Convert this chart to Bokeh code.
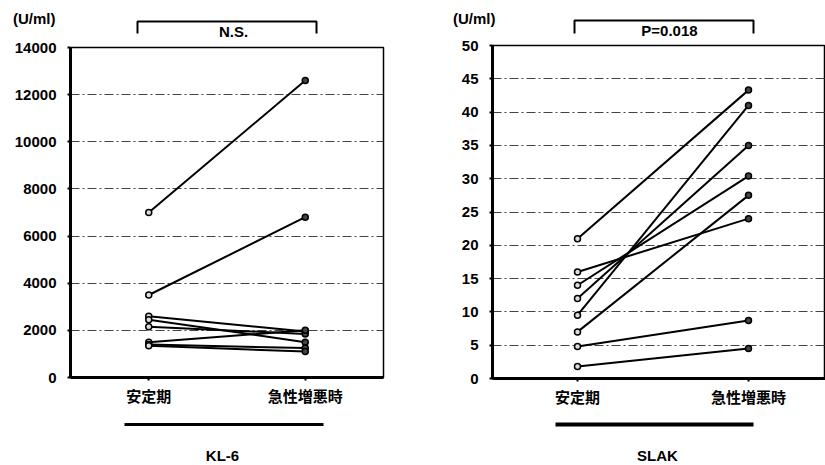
from bokeh.plotting import figure
from bokeh.layouts import row, column
from bokeh.models import FixedTicker, Range1d, LinearAxis
from bokeh.core.properties import value
from bokeh.embed import file_html
from bokeh.resources import INLINE

# ---------------- data ----------------
categories = ["安定期", "急性増悪時"]
kl6_stable = [7000, 3500, 2600, 2450, 2150, 1500, 1400, 1350]
kl6_exacerbation = [12600, 6800, 1950, 1500, 1850, 2000, 1250, 1100]
slak_stable = [21, 16, 14, 12, 9.5, 7, 4.8, 1.8]
slak_exacerbation = [43.3, 24, 30.4, 35, 41, 27.5, 8.7, 4.5]
kl6_ticks = [0, 2000, 4000, 6000, 8000, 10000, 12000, 14000]
slak_ticks = [0, 5, 10, 15, 20, 25, 30, 35, 40, 45, 50]
unit_label = "(U/ml)"
kl6_name = "KL-6"
slak_name = "SLAK"
kl6_test = "N.S."
slak_test = "P=0.018"

FONT = "Liberation Sans"
CJK = "Noto Sans CJK JP"
FS = "15px"
MAIN_END = 415  # y where the strip below each chart starts
H = 465


def strip(width, height, xr, L, R):
    s = figure(width=width, height=height, output_backend="svg", toolbar_location=None,
               x_range=Range1d(*xr), y_range=Range1d(height, 0),
               x_axis_type=None, y_axis_type=None,
               min_border_left=L, min_border_right=width - R, min_border_top=0, min_border_bottom=0)
    s.grid.visible = False
    s.outline_line_color = None
    return s


def text(fig, x, y, t, size=FS):
    fig.text([x], [y], text=[t], text_font=value(FONT), text_font_style="bold",
             text_font_size=value(size), text_align="center", text_baseline="middle",
             text_color="black")


def panel(W, L, R, T, B, top_h, xr, ymax, ticks, stable, exac, unit_y, unit_standoff, bracket_px,
          test_text, test_px, bar_px, bar_w, name_px, name):
    def X(px):
        return xr[0] + (xr[1] - xr[0]) * (px - L) / (R - L)

    # ---- strip above: unit, bracket and test result ----
    top = strip(W, top_h, xr, L, R)
    uax = LinearAxis(ticker=FixedTicker(ticks=[unit_y]), major_label_overrides={unit_y: unit_label},
                     axis_line_color=None, major_tick_line_color=None, minor_tick_line_color=None,
                     major_tick_in=0, major_tick_out=0, major_label_standoff=unit_standoff,
                     major_label_text_font=FONT, major_label_text_font_style="bold",
                     major_label_text_font_size=FS, major_label_text_color="black")
    top.add_layout(uax, "left")
    b0, b1, bt, bb = bracket_px
    top.line([X(b0), X(b0), X(b1), X(b1)], [bb, bt, bt, bb], line_color="black", line_width=2)
    text(top, X(test_px[0]), test_px[1], test_text)

    # ---- main chart ----
    p = figure(width=W, height=MAIN_END - top_h, output_backend="svg", toolbar_location=None,
               x_range=Range1d(*xr), y_range=Range1d(0, ymax),
               min_border_left=L, min_border_right=W - R, min_border_top=T - top_h,
               min_border_bottom=MAIN_END - B)
    p.outline_line_color = "black"
    p.outline_line_width = 1.5
    p.xgrid.visible = False
    p.ygrid.ticker = FixedTicker(ticks=ticks[1:-1])
    p.ygrid.grid_line_color = "#444444"
    p.ygrid.grid_line_width = 1
    p.ygrid.grid_line_dash = "9 3 2 3"
    p.yaxis.ticker = FixedTicker(ticks=ticks)
    p.xaxis.ticker = FixedTicker(ticks=[1, 2])
    p.xaxis.major_label_overrides = {1: categories[0], 2: categories[1]}
    for ax in (p.xaxis, p.yaxis):
        ax.axis_line_width = 3
        ax.axis_line_color = "black"
        ax.major_tick_in = 0
        ax.major_tick_out = 3
        ax.major_tick_line_width = 2
        ax.minor_tick_line_color = None
    p.yaxis.major_label_text_font = FONT
    p.yaxis.major_label_text_font_style = "bold"
    p.yaxis.major_label_text_font_size = FS
    p.yaxis.major_label_text_color = "black"
    p.yaxis.major_label_standoff = 11
    p.xaxis.major_label_text_font = CJK
    p.xaxis.major_label_text_font_style = "bold"
    p.xaxis.major_label_text_font_size = "15px"
    p.xaxis.major_label_text_color = "black"
    p.xaxis.major_label_standoff = 4

    xs = [[1, 2] for _ in stable]
    ys = [[a, b] for a, b in zip(stable, exac)]
    p.multi_line(xs=xs, ys=ys, line_color="black", line_width=2)
    p.scatter([1] * len(stable), stable, size=6, fill_color="#dddddd", line_color="black", line_width=1.5)
    p.scatter([2] * len(exac), exac, size=6, fill_color="#444444", line_color="black", line_width=1.5)

    # ---- strip below: bar and marker name ----
    bot = strip(W, H - MAIN_END, xr, L, R)
    bot.line([X(bar_px[0]), X(bar_px[1])], [bar_px[2] - MAIN_END] * 2, line_color="black",
             line_width=bar_w)
    text(bot, X(name_px[0]), name_px[1] - MAIN_END, name)

    return column(top, p, bot, spacing=0)


left = panel(412, 70, 383, 47, 377, 39, (0.5, 2.5), 14000, kl6_ticks, kl6_stable, kl6_exacerbation,
             18, 15, (137, 316, 21, 33), kl6_test, (233, 30.5), (124, 323, 424), 3, (222, 455), kl6_name)
right = panel(413, 80, 413, 45, 378, 37, (1 - 85 / 171, 2 + 77 / 171), 50, slak_ticks, slak_stable,
              slak_exacerbation, 18, -3, (162, 341, 20, 33), slak_test, (257, 29.5),
              (143, 341, 424), 4, (245, 455), slak_name)

layout = row(left, right, spacing=0)
open("out.html", "w").write(file_html(layout, INLINE))
